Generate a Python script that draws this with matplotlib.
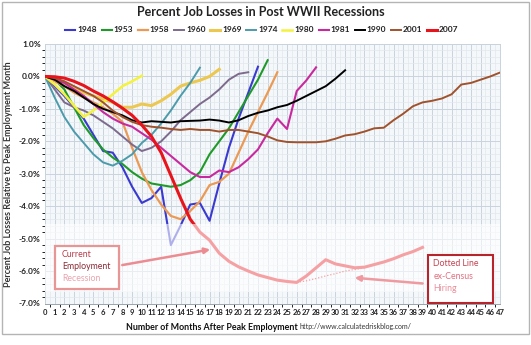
import matplotlib.pyplot as plt
import numpy as np
from matplotlib.patches import Rectangle

plt.rcParams['font.family'] = ['Lato', 'DejaVu Sans']

# job losses, percent of peak employment, one value per month after the peak
y1948 = [0, -0.3, -0.6, -0.95, -1.3, -1.8, -2.3, -2.35, -2.8, -3.4, -3.9, -3.75,
         -3.4, -5.2, -4.6, -3.95, -3.9, -4.45, -3.3, -2.2, -1.3, -0.5, 0.3]
y1953 = [0, -0.1, -0.4, -0.95, -1.5, -1.9, -2.25, -2.5, -2.7, -2.95, -3.15, -3.3,
         -3.35, -3.4, -3.35, -3.2, -2.95, -2.4, -2.0, -1.6, -1.1, -0.6, -0.1, 0.5]
y1958 = [0, -0.15, -0.3, -0.5, -0.65, -0.8, -0.95, -1.15, -1.4, -2.2, -2.95, -3.5,
         -3.95, -4.3, -4.4, -4.15, -3.85, -3.35, -3.25, -3.0, -2.35, -1.7, -1.1,
         -0.5, 0.13]
y1960 = [0, -0.4, -0.8, -0.95, -1.05, -1.2, -1.4, -1.6, -1.85, -2.1, -2.3, -2.2,
         -2.0, -1.7, -1.35, -1.1, -0.85, -0.65, -0.4, -0.1, 0.08, 0.13]
y1969 = [0, -0.1, -0.2, -0.35, -0.5, -0.6, -0.7, -0.8, -0.95, -0.95, -0.85, -0.9,
         -0.75, -0.55, -0.3, -0.2, -0.12, 0.0, 0.22]
y1974 = [0, -0.65, -1.25, -1.7, -2.05, -2.4, -2.65, -2.75, -2.6, -2.4, -2.05,
         -1.8, -1.45, -1.05, -0.6, -0.2, 0.27]
y1980 = [0, -0.25, -0.55, -0.9, -1.25, -1.05, -0.8, -0.55, -0.3, -0.15, 0.02]
y1981 = [0, -0.1, -0.2, -0.4, -0.6, -0.85, -1.1, -1.3, -1.45, -1.55, -1.75,
         -1.95, -2.2, -2.45, -2.7, -2.95, -3.1, -3.1, -2.9, -2.95, -2.8, -2.55,
         -2.25, -1.75, -1.3, -1.62, -0.45, -0.12, 0.28]
y1990 = [0, -0.1, -0.3, -0.45, -0.65, -0.85, -1.0, -1.1, -1.2, -1.35, -1.42,
         -1.38, -1.4, -1.42, -1.38, -1.37, -1.36, -1.33, -1.36, -1.42, -1.35,
         -1.22, -1.12, -1.05, -0.95, -0.88, -0.75, -0.6, -0.45, -0.3, -0.07, 0.19]
y2001 = [0, -0.05, -0.15, -0.3, -0.45, -0.6, -0.8, -1.05, -1.25, -1.4, -1.5,
         -1.55, -1.58, -1.62, -1.65, -1.62, -1.65, -1.65, -1.7, -1.65, -1.65,
         -1.7, -1.75, -1.85, -1.97, -2.02, -2.03, -2.03, -2.03, -2.0, -1.92,
         -1.82, -1.78, -1.7, -1.6, -1.58, -1.35, -1.15, -0.92, -0.8, -0.75,
         -0.68, -0.55, -0.25, -0.2, -0.1, 0.0, 0.12]
y2007 = [0, -0.01, -0.05, -0.15, -0.28, -0.45, -0.6, -0.78, -0.98, -1.2, -1.5,
         -1.85, -2.35, -3.05, -3.75, -4.4, -4.8, -5.05, -5.45, -5.7, -5.87, -6.0,
         -6.12, -6.2, -6.28, -6.32, -6.35, -6.15, -5.9, -5.65, -5.78, -5.84,
         -5.9, -5.88, -5.8, -5.72, -5.62, -5.5, -5.4, -5.27]

# 2007 recession with temporary census workers taken out
census_months = [26, 27, 28, 29, 30, 31, 32, 33]
census_adj = [-6.35, -6.3, -6.23, -6.15, -6.08, -6.0, -5.95, -5.9]

years = ['1948', '1953', '1958', '1960', '1969', '1974', '1980', '1981',
         '1990', '2001', '2007']
values = [y1948, y1953, y1958, y1960, y1969, y1974, y1980, y1981,
          y1990, y2001, y2007]
colors = ['#3a3ad0', '#1f9a2a', '#eb9a55', '#7d6a8c', '#ecc850', '#4b9bab',
          '#f4f23c', '#c8299e', '#000000', '#a0522d', '#e8141c']
widths = [1.5, 1.5, 1.6, 1.4, 2.2, 1.4, 1.8, 1.5, 1.4, 1.4, 2.2]

fig = plt.figure(figsize=(5.31, 3.45), dpi=100)
ax = fig.add_axes([45 / 531, 1 - 303.5 / 345, 455 / 531, 259.5 / 345])
ax.set_facecolor('#f5f8fb')

for yr, vals, c, lw in zip(years, values, colors, widths):
    ax.plot(np.arange(len(vals)), vals, color=c, lw=lw, label=yr,
            solid_joinstyle='round', zorder=3 if yr != '2007' else 4)
ax.plot(census_months, census_adj, color='#e8141c', lw=0.9, ls=(0, (1, 1.5)),
        zorder=4)

# faded band over the lower part of the plot
ax.add_patch(Rectangle((0, -6.65), 47, 2.1, facecolor='white', alpha=0.6,
                       edgecolor='none', zorder=5))

ax.set_xlim(0, 47)
ax.set_ylim(-7, 1)
ax.set_xticks(np.arange(0, 48))
ax.set_xticks(np.arange(0, 47, 0.5), minor=True)
ax.set_yticks(np.arange(-7, 1.01, 1))
ax.set_yticks(np.arange(-7, 1.01, 0.2), minor=True)
ax.set_yticklabels(['%.1f%%' % v for v in np.arange(-7, 1.01, 1)])
ax.tick_params(axis='both', length=0, pad=3, labelsize=6, colors='#222222')
ax.tick_params(axis='x', labelsize=5.5, pad=4)
for lab in ax.get_xticklabels() + ax.get_yticklabels():
    lab.set_fontweight('bold')
ax.grid(which='major', color='#c9d3dd', lw=0.7, zorder=0)
ax.grid(which='minor', color='#e2e8ee', lw=0.5, zorder=0)
ax.set_axisbelow(True)
for s in ax.spines.values():
    s.set_color('#c9d3dd')
    s.set_linewidth(0.7)
ax.spines['bottom'].set_color('#9aa4ae')

ax.set_ylabel('Percent Job Losses Relative to Peak Employment Month',
              fontsize=6.5, fontweight='bold', color='#333333', labelpad=4)
ax.set_xlabel('Number of Months After Peak Employment', fontsize=6.4,
              fontweight='bold', color='#111111', labelpad=5, x=0.366)
fig.text(299 / 531, 1 - 326 / 345, 'http://www.calculatedriskblog.com/',
         fontsize=5, color='#333333', va='center')

fig.suptitle('Percent Job Losses in Post WWII Recessions', x=261 / 531,
             y=1 - 12 / 345, va='center', fontsize=9, fontweight='bold',
             color='#222222')
leg = fig.legend(loc='center', bbox_to_anchor=(262 / 531, 1 - 30 / 345),
                 ncol=11, frameon=False, fontsize=6, handlelength=1.2,
                 handletextpad=0.25, columnspacing=0.55, borderpad=0)
for t in leg.get_texts():
    t.set_fontweight('bold')
    t.set_color('#222222')

# annotation boxes
ax.add_patch(Rectangle((1.05, -6.54), 6.6, 1.32, facecolor='white',
                       edgecolor='#e79595', lw=1.6, zorder=6))
for txt, yy, c in [('Current', -5.5, '#b83a48'), ('Employment', -5.87, '#8a2a36'),
                   ('Recession', -6.23, '#eaa4ad')]:
    ax.text(1.75, yy, txt, fontsize=6.3, color=c, va='center', zorder=7)
ax.annotate('', xy=(17.35, -5.32), xytext=(7.7, -5.83), zorder=6,
            arrowprops=dict(arrowstyle='-|>', color='#ec8c92', lw=1.8,
                            mutation_scale=8))

ax.add_patch(Rectangle((39.6, -6.98), 6.7, 1.49, facecolor='white',
                       edgecolor='#b8242c', lw=1.5, zorder=6))
for txt, yy, c in [('Dotted Line', -5.77, '#c44352'), ('ex-Census', -6.17, '#e2707e'),
                   ('Hiring', -6.54, '#e88e9a')]:
    ax.text(40.1, yy, txt, fontsize=6.3, color=c, va='center', zorder=7)
ax.annotate('', xy=(31.7, -6.2), xytext=(39.3, -6.39), zorder=6,
            arrowprops=dict(arrowstyle='-|>', color='#ee9aa0', lw=1.8,
                            mutation_scale=8))

# outer frame of the chart
fig.add_artist(Rectangle((2 / 531, 1 - 334 / 345), 527 / 531, 332 / 345,
                         transform=fig.transFigure, fill=False,
                         edgecolor='#b4b4b4', lw=1))

fig.savefig('out.png', dpi=100)
